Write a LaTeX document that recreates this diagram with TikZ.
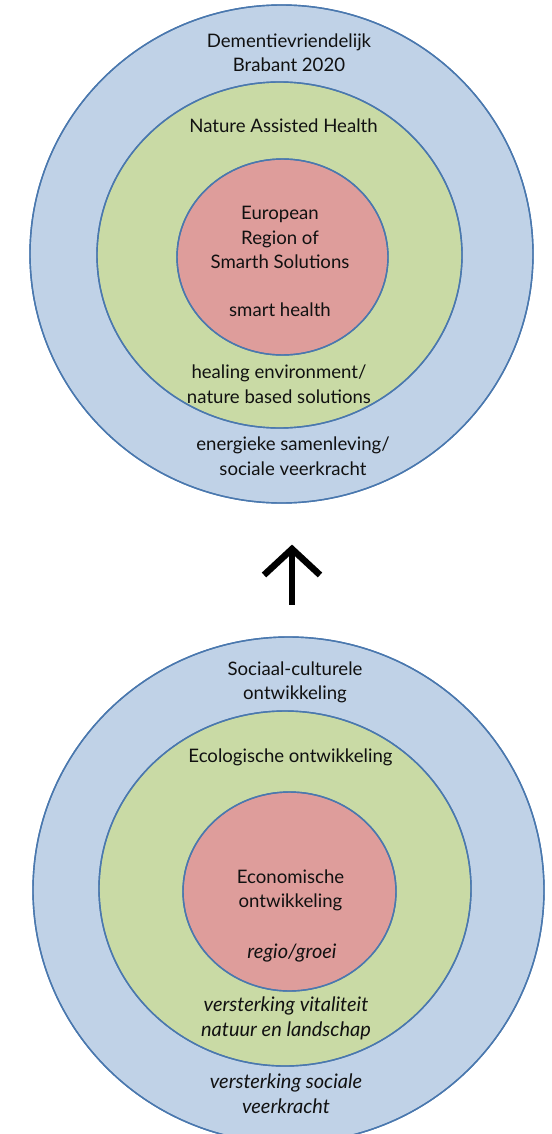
\documentclass[tikz,border=0pt]{standalone}
\usepackage{fontspec}
\setmainfont{Lato}
\definecolor{ringblue}{HTML}{C0D2E7}
\definecolor{ringgreen}{HTML}{C9DAA5}
\definecolor{ringred}{HTML}{DE9D9B}
\definecolor{ringline}{HTML}{4A78AE}
\definecolor{txt}{HTML}{111111}
\tikzset{
  ring/.style={draw=ringline, line width=1.4pt},
  lbl/.style={align=center, text=txt, font=\fontsize{18.6}{24.5}\selectfont, inner sep=0pt},
  ilbl/.style={lbl, font=\fontsize{20}{24.5}\selectfont\itshape},
  bigarrow/.style={line width=6.5pt, draw=black, line join=miter}
}
\begin{document}
\begin{tikzpicture}[x=1pt,y=-1pt]
\useasboundingbox (0,0) rectangle (551,1134);
% top diagram
\fill[ring, fill=ringblue] (281.5,254) ellipse [x radius=251.5, y radius=249];
\fill[ring, fill=ringgreen] (279.5,255) ellipse [x radius=182.5, y radius=173];
\fill[ring, fill=ringred] (282.5,257) ellipse [x radius=105.5, y radius=98];
\draw[ring] (281.5,254) ellipse [x radius=251.5, y radius=249];
\draw[ring] (279.5,255) ellipse [x radius=182.5, y radius=173];
\draw[ring] (282.5,257) ellipse [x radius=105.5, y radius=98];
\node[lbl] (t1) at (289,52.5) {Dementievriendelijk\\Brabant 2020};
\node[lbl] (t2) at (283.5,126) {Nature Assisted Health};
\node[lbl] (t3) at (280,237.5) {European\\Region of\\Smarth Solutions};
\node[lbl] (t4) at (280,310) {smart health};
\node[lbl] (t5) at (279,384) {healing environment/\\nature based solutions};
\node[lbl] (t6) at (293,456) {energieke samenleving/\\sociale veerkracht};
% arrow
\coordinate (tip) at (292,549);
\coordinate (wl) at (264,575);
\coordinate (wr) at (320,575);
\coordinate (foot) at (292,605);
\draw[bigarrow] (wl) -- (tip) -- (wr);
\draw[bigarrow] (tip) -- (foot);
% bottom diagram
\fill[ring, fill=ringblue] (288.5,890) ellipse [x radius=255.5, y radius=253];
\fill[ring, fill=ringgreen] (285,888.5) ellipse [x radius=186, y radius=177.5];
\fill[ring, fill=ringred] (289.5,891.5) ellipse [x radius=106.5, y radius=99.5];
\draw[ring] (288.5,890) ellipse [x radius=255.5, y radius=253];
\draw[ring] (285,888.5) ellipse [x radius=186, y radius=177.5];
\draw[ring] (289.5,891.5) ellipse [x radius=106.5, y radius=99.5];
\node[lbl] (b1) at (295,682.5) {Sociaal-culturele\\ontwikkeling};
\node[lbl] (b2) at (290.5,757) {Ecologische ontwikkeling};
\node[lbl] (b3) at (290.5,890.5) {Economische\\ontwikkeling};
\node[ilbl] (b4) at (292,953) {regio/groei};
\node[ilbl] (b5) at (286,1018.5) {versterking vitaliteit\\natuur en landschap};
\node[ilbl] (b6) at (286,1093.5) {versterking sociale\\veerkracht};
\end{tikzpicture}
\end{document}
